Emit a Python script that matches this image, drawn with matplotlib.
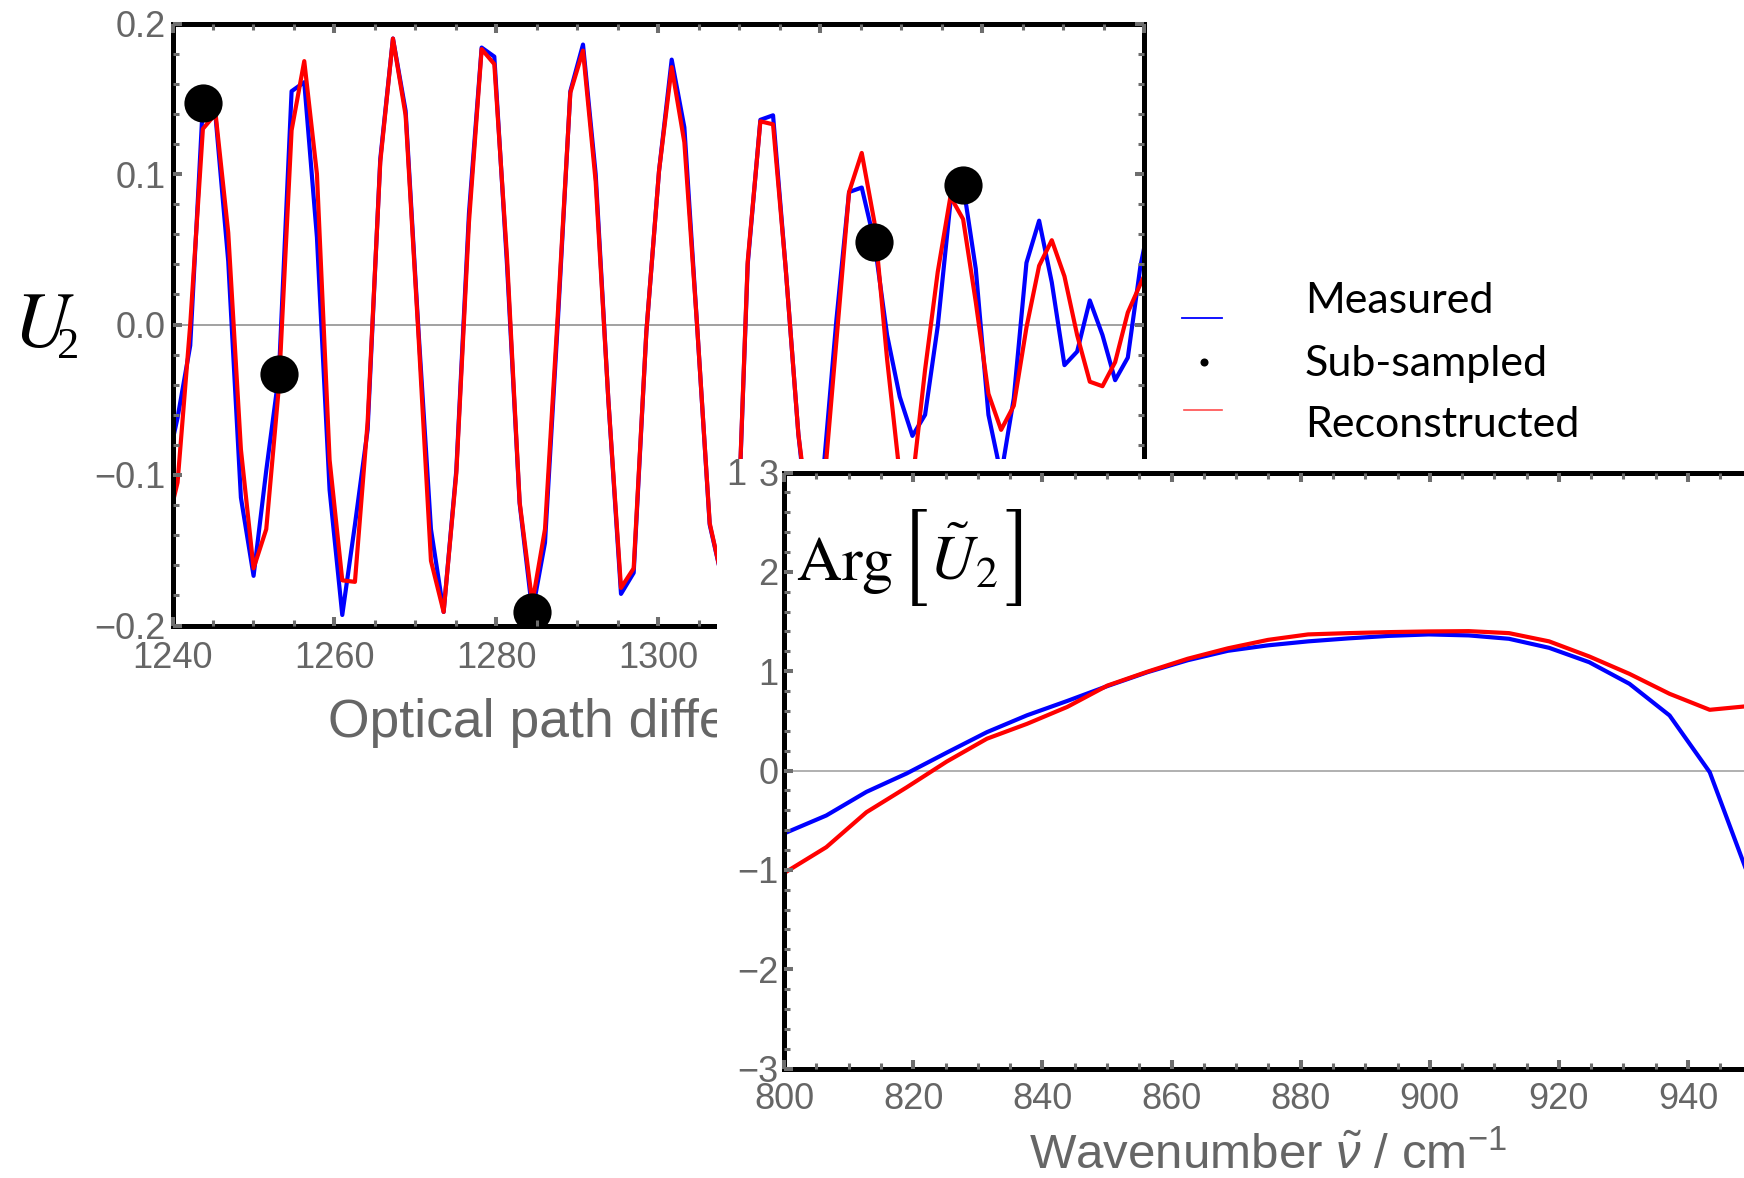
import numpy as np
import matplotlib
matplotlib.use("Agg")
import matplotlib.pyplot as plt
from matplotlib.lines import Line2D
from matplotlib.patches import Rectangle
from matplotlib.ticker import MultipleLocator

plt.rcParams['font.family'] = ['Liberation Sans', 'DejaVu Sans']
plt.rcParams['mathtext.fontset'] = 'custom'
plt.rcParams['mathtext.rm'] = 'Liberation Sans'
plt.rcParams['mathtext.it'] = 'Liberation Sans:italic'

W, H = 1744, 1178
GREY_TEXT = '#666666'
GREY_TICK = '#6e6e6e'
BLUE = '#0000ff'
RED = '#ff0000'

# interferogram samples, evenly spaced in optical path difference (um)
opd_start = 1239.06
opd_step = 1.565
u_measured = [
    -0.100, -0.062, -0.014, 0.147, 0.138, 0.042, -0.115, -0.167, -0.097, -0.033,
    0.155, 0.161, 0.058, -0.110, -0.193, -0.133, -0.070, 0.110, 0.190, 0.142,
    -0.002, -0.136, -0.191, -0.097, 0.074, 0.184, 0.178, 0.040, -0.119, -0.191,
    -0.145, 0.000, 0.155, 0.186, 0.100, -0.050, -0.179, -0.165, -0.005, 0.102,
    0.176, 0.131, 0.000, -0.133, -0.170, -0.190, 0.040, 0.136, 0.139, 0.037,
    -0.073, -0.150, -0.095, 0.003, 0.088, 0.091, 0.055, -0.007, -0.048, -0.074,
    -0.060, -0.001, 0.081, 0.093, 0.037, -0.060, -0.100, -0.049, 0.041, 0.069,
    0.028, -0.027, -0.018, 0.016, -0.007, -0.037, -0.022, 0.039, 0.080,
]
u_reconstructed = [
    -0.140, -0.105, 0.000, 0.130, 0.140, 0.061, -0.083, -0.162, -0.136, -0.041,
    0.129, 0.175, 0.100, -0.090, -0.170, -0.171, -0.065, 0.108, 0.190, 0.139,
    -0.005, -0.157, -0.191, -0.099, 0.068, 0.183, 0.173, 0.045, -0.118, -0.185,
    -0.136, 0.005, 0.154, 0.182, 0.095, -0.050, -0.175, -0.162, -0.005, 0.102,
    0.171, 0.121, 0.000, -0.132, -0.170, -0.190, 0.042, 0.135, 0.133, 0.037,
    -0.073, -0.140, -0.110, -0.011, 0.088, 0.114, 0.068, -0.023, -0.100, -0.105,
    -0.030, 0.035, 0.085, 0.070, 0.015, -0.046, -0.070, -0.054, -0.002, 0.039,
    0.056, 0.032, -0.007, -0.038, -0.041, -0.025, 0.008, 0.027, 0.045,
]
# samples kept for the reconstruction
sub_idx = [3, 9, 29, 56, 63]

opd_ticks = [1240, 1260, 1280, 1300, 1320, 1340, 1360]
u_ticks = [-0.2, -0.1, 0.0, 0.1, 0.2]
u_tick_labels = ['\u22120.2', '\u22120.1', '0.0', '0.1', '0.2']

# phase spectrum
wn_start = 800.3
wn_step = 6.22
arg_measured = [
    -0.625, -0.453, -0.215, -0.030, 0.180, 0.386, 0.556, 0.700, 0.850, 0.990,
    1.110, 1.205, 1.260, 1.300, 1.330, 1.355, 1.370, 1.360, 1.326, 1.235,
    1.090, 0.873, 0.554, -0.017, -1.100,
]
arg_reconstructed = [
    -1.020, -0.772, -0.420, -0.170, 0.090, 0.320, 0.470, 0.640, 0.855, 0.995,
    1.125, 1.230, 1.315, 1.370, 1.383, 1.393, 1.400, 1.403, 1.383, 1.300,
    1.148, 0.973, 0.772, 0.611, 0.650,
]
wn_ticks = [800, 820, 840, 860, 880, 900, 920, 940]
arg_ticks = [-3, -2, -1, 0, 1, 2, 3]
arg_tick_labels = ['\u22123', '\u22122', '\u22121', '0', '1', '2', '3']

opd = opd_start + opd_step * np.arange(len(u_measured))
wn = wn_start + wn_step * np.arange(len(arg_measured))


def fx(px):
    return px / W


def fy(py):
    return 1 - py / H


def mathematica_frame(ax, xminor, yminor, xpad, ypad):
    """Thick black frame with grey inward ticks on all four sides"""
    for s in ax.spines.values():
        s.set_linewidth(3.6)
        s.set_color('black')
    ax.xaxis.set_minor_locator(MultipleLocator(xminor))
    ax.yaxis.set_minor_locator(MultipleLocator(yminor))
    ax.tick_params(which='both', direction='in', top=True, right=True,
                   color=GREY_TICK, labelcolor=GREY_TEXT, labelsize=26)
    ax.tick_params(which='major', length=6.5, width=2.9)
    ax.tick_params(which='minor', length=4.3, width=2.2)
    ax.tick_params(axis='x', which='major', pad=xpad)
    ax.tick_params(axis='y', which='major', pad=ypad)
    ax.xaxis.set_zorder(2.6)
    ax.yaxis.set_zorder(2.6)


fig = plt.figure(figsize=(W / 100, H / 100), dpi=100)

# interferogram panel
ax1 = fig.add_axes([fx(172.5), fy(625.5), (1144 - 172.5) / W, (625.5 - 23.5) / H], zorder=1)
ax1.axhline(0, color='#888888', lw=1.1, zorder=1.5)
ax1.plot(opd, u_measured, color=BLUE, lw=3.0, zorder=2)
ax1.plot(opd, u_reconstructed, color=RED, lw=3.0, zorder=2.1)
ax1.plot(opd[sub_idx], np.array(u_measured)[sub_idx], 'o', color='black',
         ms=27.5, mew=0, zorder=2.2)
ax1.set_xlim(1240, 1360)
ax1.set_ylim(-0.2, 0.2)
ax1.set_xticks(opd_ticks)
ax1.set_yticks(u_ticks, u_tick_labels)
mathematica_frame(ax1, 5, 0.02, 11.5, 5.0)
ax1.set_xlabel('Optical path difference / \u03bcm', fontsize=38.5, color=GREY_TEXT)
ax1.xaxis.set_label_coords((328 - 172.5) / 971.5, (625.5 - 737) / 602)
ax1.xaxis.label.set_ha('left')
ax1.xaxis.label.set_va('baseline')

# white backing of the phase panel, laid over the lower right of the first one
fig.add_artist(Rectangle((fx(716.5), 0), 1 - fx(716.5), fy(459), transform=fig.transFigure,
                         facecolor='white', edgecolor='none', zorder=2))

# phase panel
ax2 = fig.add_axes([fx(784.2), fy(1068.5), (1752.6 - 784.2) / W, (1068.5 - 472.5) / H], zorder=3)
ax2.axhline(0, color='#b0b0b0', lw=1.4, zorder=1.5)
ax2.plot(wn, arg_measured, color=BLUE, lw=3.0, zorder=2)
ax2.plot(wn, arg_reconstructed, color=RED, lw=3.0, zorder=2.1)
ax2.set_xlim(800, 950)
ax2.set_ylim(-3, 3)
ax2.set_xticks(wn_ticks)
ax2.set_yticks(arg_ticks, arg_tick_labels)
mathematica_frame(ax2, 5, 0.2, 10.0, 4.0)
ax2.set_xlabel(r'Wavenumber $\tilde{\nu}$ / cm$^{-1}$', fontsize=35.5, color=GREY_TEXT)
ax2.xaxis.set_label_coords((1268 - 784.2) / 968.4, (1068.5 - 1169) / 596)
ax2.xaxis.label.set_va('baseline')

# axis titles
fig.text(fx(13), fy(347), r'$U$', fontsize=56, math_fontfamily='stix', va='baseline', zorder=5)
fig.text(fx(57), fy(358), '2', fontsize=32, family='Liberation Serif', va='baseline', zorder=5)

fig.text(fx(796), fy(580), r'$\mathrm{Arg}$', fontsize=45, math_fontfamily='stix',
         va='baseline', zorder=5)
fig.text(fx(929), fy(580), r'$\tilde{U}_2$', fontsize=45, math_fontfamily='stix',
         va='baseline', zorder=5)
# tall thin brackets from the STIX size-one set
fig.text(fx(928), fy(560.5), '[', fontsize=57, family=['STIXSizeOneSym', 'DejaVu Serif'],
         ha='right', va='center', zorder=5)
fig.text(fx(1004), fy(560.5), ']', fontsize=57, family=['STIXSizeOneSym', 'DejaVu Serif'],
         ha='left', va='center', zorder=5)

fig.text(fx(726), fy(485), '1', fontsize=26, color=GREY_TEXT, va='baseline', zorder=5)

# legend
fig.add_artist(Line2D([fx(1182), fx(1222)], [fy(318), fy(318)], transform=fig.transFigure,
                      color=BLUE, lw=1.3, zorder=5))
fig.add_artist(Line2D([fx(1203.5)], [fy(362)], transform=fig.transFigure, ls='none',
                      marker='o', ms=5.8, mew=0, color='black', zorder=5))
fig.add_artist(Line2D([fx(1184), fx(1222)], [fy(410), fy(410)], transform=fig.transFigure,
                      color='#ff4d4d', lw=1.2, zorder=5))
for label, base in [('Measured', 313), ('Sub-sampled', 376), ('Reconstructed', 437)]:
    fig.text(fx(1305), fy(base), label, fontsize=31, family=['Lato', 'DejaVu Sans'],
             color='black', va='baseline', zorder=5)

fig.savefig('out.png', dpi=100)
